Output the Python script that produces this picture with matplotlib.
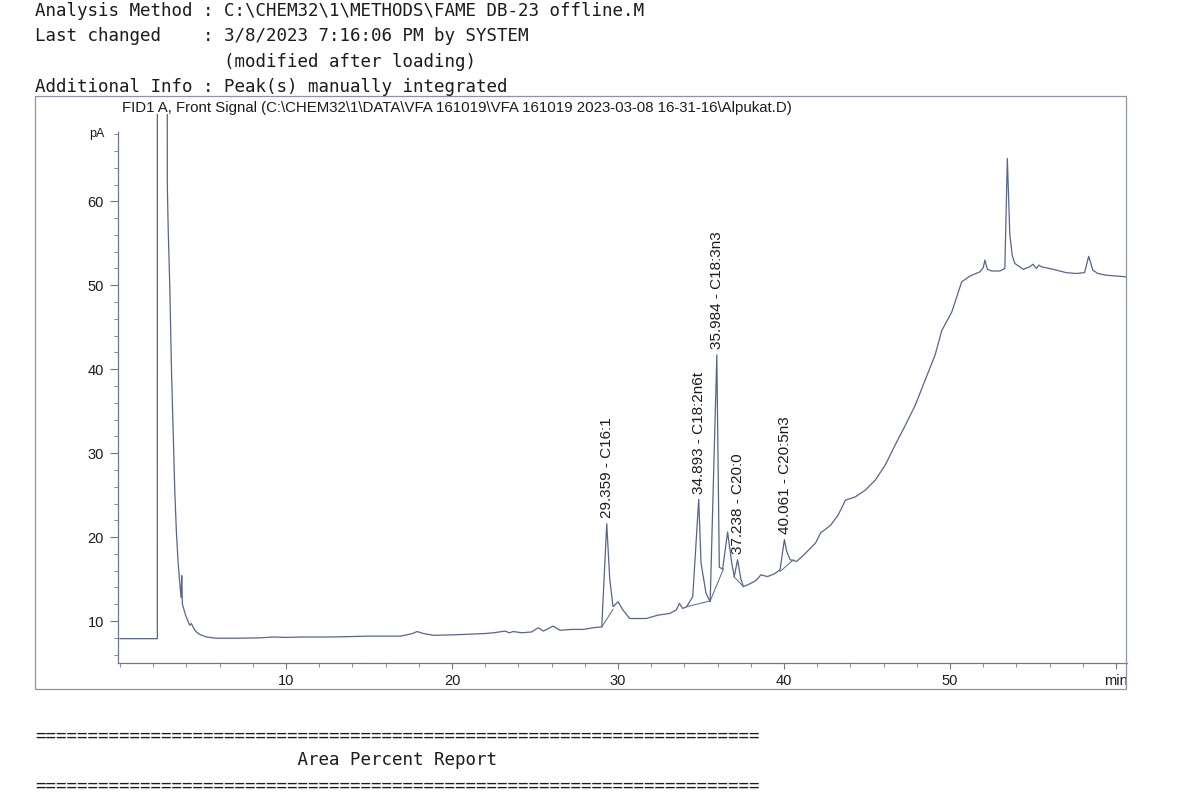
# -*- coding: utf-8 -*-
# script : plot.py  - FID chromatogram (FAME DB-23) re-drawn from the printed report

import matplotlib
matplotlib.use("Agg")
import matplotlib.pyplot as plt
from matplotlib.patches import Rectangle
from matplotlib.ticker import MultipleLocator, FixedLocator, FixedFormatter
import numpy as np

# ---- header text of the report ----
header_lines = [
    "Analysis Method : C:\\CHEM32\\1\\METHODS\\FAME DB-23 offline.M",
    "Last changed    : 3/8/2023 7:16:06 PM by SYSTEM",
    "                  (modified after loading)",
    "Additional Info : Peak(s) manually integrated",
]
signal_title = ("FID1 A, Front Signal (C:\\CHEM32\\1\\DATA\\VFA 161019\\VFA 161019 "
                "2023-03-08 16-31-16\\Alpukat.D)")
report_title = "Area Percent Report"

# ---- signal trace (retention time in min, signal in pA) ----
time_min = [0.0, 2.25, 2.26, 2.78, 2.85, 2.9, 3.0, 3.1, 3.2, 3.3, 3.4, 3.5,
            3.6, 3.68, 3.72, 3.76, 3.85, 3.95, 4.05, 4.2, 4.3, 4.45, 4.6,
            4.8, 5.2, 5.8, 7.0, 8.5, 9.2, 10.0, 11.0, 12.8, 14.0, 15.0, 16.9,
            17.6, 17.9, 18.3, 18.9, 20.0, 21.9, 22.5, 23.2, 23.45, 23.7, 24.2,
            24.8, 25.2, 25.5, 26.1, 26.5, 27.2, 27.9, 28.5, 29.02, 29.32,
            29.5, 29.7, 29.85, 30.0, 30.3, 30.7, 31.7, 32.4, 33.1, 33.5, 33.7,
            33.9, 34.13, 34.5, 34.86, 35.0, 35.3, 35.55, 35.95, 36.1, 36.3,
            36.6, 36.85, 37.0, 37.2, 37.4, 37.55, 37.8, 38.1, 38.35, 38.6,
            39.0, 39.4, 39.76, 40.02, 40.16, 40.36, 40.76, 41.2, 41.6, 41.9,
            42.2, 42.8, 43.25, 43.7, 44.3, 44.9, 45.5, 46.1, 46.7, 47.3, 47.9,
            48.5, 49.1, 49.5, 50.1, 50.7, 51.2, 51.8, 52.0, 52.1, 52.25, 52.5,
            53.0, 53.3, 53.45, 53.6, 53.75, 53.9, 54.4, 54.8, 55.0, 55.2,
            55.35, 55.5, 56.2, 57.0, 57.6, 58.1, 58.35, 58.6, 58.9, 59.4, 60.0,
            60.6]
signal_pa = [7.9, 7.9, 500.0, 500.0, 62.0, 57.0, 49.8, 40.0, 32.5, 25.5, 20.5,
             17.0, 14.5, 12.8, 15.4, 12.0, 11.4, 10.7, 10.2, 9.5, 9.7, 9.1,
             8.7, 8.4, 8.1, 7.95, 7.95, 8.0, 8.1, 8.05, 8.1, 8.1, 8.15, 8.2,
             8.2, 8.5, 8.75, 8.5, 8.3, 8.35, 8.5, 8.6, 8.8, 8.6, 8.75, 8.6, 8.7,
             9.2, 8.8, 9.4, 8.9, 9.0, 9.0, 9.2, 9.3, 21.6, 15.0, 11.7, 12.0,
             12.3, 11.3, 10.3, 10.3, 10.7, 10.9, 11.3, 12.1, 11.5, 11.7, 12.9,
             24.5, 16.9, 13.3, 12.3, 41.7, 16.4, 16.2, 20.6, 16.9, 15.3, 17.3,
             15.0, 14.1, 14.3, 14.6, 14.9, 15.5, 15.3, 15.6, 16.1, 19.7, 18.3,
             17.3, 17.1, 17.9, 18.7, 19.3, 20.5, 21.4, 22.6, 24.4, 24.8, 25.6,
             26.8, 28.6, 31.0, 33.3, 35.7, 38.7, 41.7, 44.6, 46.8, 50.4, 51.1,
             51.6, 52.1, 53.0, 51.9, 51.7, 51.7, 52.0, 65.1, 56.0, 53.5, 52.6,
             51.9, 52.2, 52.5, 52.0, 52.4, 52.2, 51.9, 51.5, 51.4, 51.5, 53.45,
             51.8, 51.4, 51.2, 51.1, 51.0]

# ---- identified peaks ----
peak_rt = [29.359, 34.893, 35.984, 37.238, 40.061]
peak_names = ["C16:1", "C18:2n6t", "C18:3n3", "C20:0", "C20:5n3"]

# ---- manual integration baselines (start/end time and signal) ----
base_t0 = [29.02, 34.13, 35.55, 36.97, 39.76]
base_v0 = [9.3, 11.7, 12.4, 15.3, 15.9]
base_t1 = [29.70, 35.55, 36.35, 37.55, 40.56]
base_v1 = [11.4, 12.4, 16.2, 14.1, 17.3]

trace_col = "#56658f"
axis_col = "#6d7894"
text_col = "#1c1c1c"
mono = "DejaVu Sans Mono"
sans = ["Liberation Sans", "DejaVu Sans"]

W, H = 1192, 806
fig = plt.figure(figsize=(W / 100, H / 100), dpi=100)
fig.patch.set_facecolor("white")

# report header (fixed width font)
for i, line in enumerate(header_lines):
    fig.text(35 / W, 1 - (11 + 25.3 * i) / H, line, family=mono, fontsize=12.6,
             color=text_col, va="center", ha="left")

# frame around the signal
fig.add_artist(Rectangle((35 / W, 1 - 689 / H), (1126 - 35) / W, (689 - 96) / H,
                         transform=fig.transFigure, fill=False,
                         edgecolor="#8c93a6", linewidth=0.9))
fig.text(122 / W, 1 - 108 / H, signal_title, family=sans, fontsize=10.8,
         color=text_col, va="center", ha="left")

ax = fig.add_axes([118 / W, 1 - 663 / H, (1126.7 - 118) / W, (663 - 114) / H])
ax.patch.set_alpha(0)
ax.plot(time_min, signal_pa, color=trace_col, linewidth=0.9)
for a, b, c, d in zip(base_t0, base_v0, base_t1, base_v1):
    ax.plot([a, c], [b, d], color=trace_col, linewidth=0.7)

t_arr = np.array(time_min)
v_arr = np.array(signal_pa)
for rt, name in zip(peak_rt, peak_names):
    near = np.abs(t_arr - rt) < 0.15
    top = v_arr[near].max()
    ax.annotate(f"{rt:.3f} - {name}", xy=(rt, top), xytext=(0, 4),
                textcoords="offset points", rotation=90, ha="center",
                va="bottom", family=sans, fontsize=11, color=text_col)

ax.set_xlim(-0.12, 60.64)
ax.set_ylim(5.0, 70.4)

# axes like the ChemStation print: left/bottom only
for s in ["top", "right"]:
    ax.spines[s].set_visible(False)
for s in ["left", "bottom"]:
    ax.spines[s].set_color(axis_col)
    ax.spines[s].set_linewidth(0.9)
ax.spines["left"].set_bounds(5.0, 68.3)

ax.xaxis.set_major_locator(FixedLocator([10, 20, 30, 40, 50, 60]))
ax.xaxis.set_major_formatter(FixedFormatter(["10", "20", "30", "40", "50", "min"]))
ax.xaxis.set_minor_locator(MultipleLocator(2))
ax.yaxis.set_major_locator(FixedLocator([10, 20, 30, 40, 50, 60]))
ax.yaxis.set_minor_locator(FixedLocator(np.arange(6, 69, 2)))
ax.tick_params(axis="both", which="both", direction="out", colors=axis_col,
               labelcolor=text_col, labelsize=10.5)
ax.tick_params(axis="x", which="major", length=4.5, pad=3.5)
ax.tick_params(axis="x", which="minor", length=3)
ax.tick_params(axis="y", which="major", length=6, pad=4)
ax.tick_params(axis="y", which="minor", length=3)
for lab in ax.get_xticklabels() + ax.get_yticklabels():
    lab.set_family(sans)
ax.text(-0.013, 68, "pA", transform=ax.get_yaxis_transform(), ha="right",
        va="center", family=sans, fontsize=9, color=text_col)

# area percent report heading
eq = "=" * 69
fig.text(35 / W, 1 - 736 / H, eq, family=mono, fontsize=12.6, color=text_col,
         va="center", ha="left")
fig.text(35 / W, 1 - 760 / H, " " * 25 + report_title, family=mono, fontsize=12.6,
         color=text_col, va="center", ha="left")
fig.text(35 / W, 1 - 786 / H, eq, family=mono, fontsize=12.6, color=text_col,
         va="center", ha="left")

fig.savefig("out.png", dpi=100, facecolor="white")
